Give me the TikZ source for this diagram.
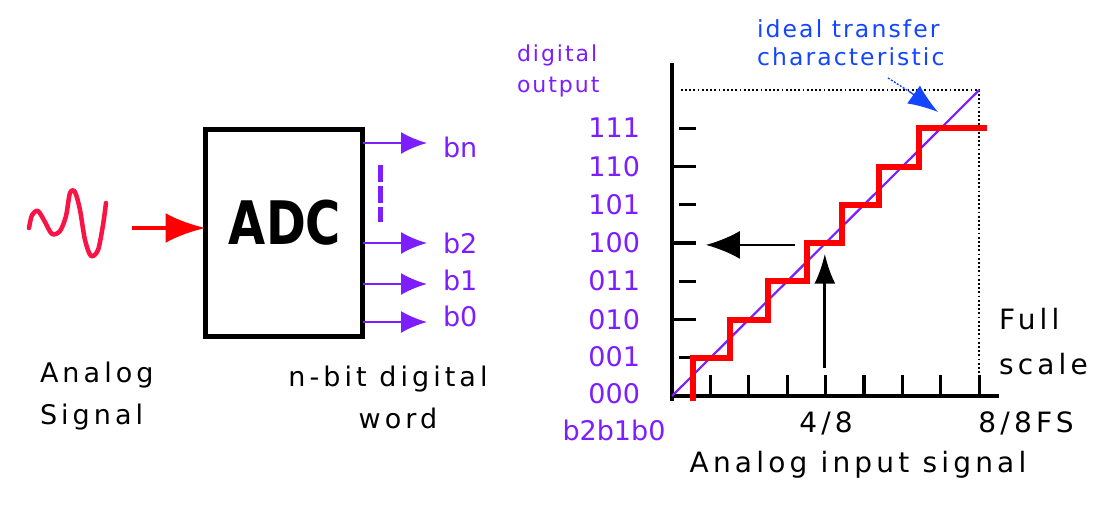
\documentclass[tikz,border=0pt]{standalone}
\usepackage{fontspec}
\usepackage{graphicx}
\setmainfont{DejaVu Sans}
\newfontfamily\lsfont{DejaVu Sans}[LetterSpace=15]
\newfontfamily\lsfontb{DejaVu Sans}[LetterSpace=9]
\usetikzlibrary{arrows.meta}
\definecolor{bitpurple}{RGB}{125,30,255}
\definecolor{idealblue}{RGB}{20,70,255}
\definecolor{sigred}{RGB}{250,20,70}
\definecolor{stepred}{RGB}{255,0,0}
\tikzset{
  every node/.style={inner sep=0pt, outer sep=0pt},
  txt/.style={font=\lsfont\fontsize{27}{42}\selectfont, text=black},
  rtxt/.style={font=\lsfont\fontsize{28}{45}\selectfont, text=black},
  bits/.style={font=\fontsize{27}{30}\selectfont, text=bitpurple},
  smallpurple/.style={font=\lsfontb\fontsize{22}{31}\selectfont, text=bitpurple},
  bluetxt/.style={font=\lsfontb\fontsize{23.5}{28}\selectfont, text=idealblue},
  adcbox/.style={draw=black, line width=5pt, minimum width=157pt, minimum height=207pt},
  outarrow/.style={draw=bitpurple, line width=2.2pt, -{Latex[length=26pt,width=22pt]}},
  inarrow/.style={draw=red, line width=4.5pt, -{Latex[length=40pt,width=30pt]}},
  readarrow/.style={draw=black, line width=2.8pt},
  axisline/.style={draw=black, line width=3.5pt},
  tickline/.style={draw=black, line width=3.2pt},
  dotline/.style={draw=black, line width=1.8pt, dash pattern=on 1.8pt off 2.4pt},
}
\begin{document}
\begin{tikzpicture}[x=1pt,y=-1pt]
\useasboundingbox[fill=white] (0,0) rectangle (1116,509);

% ---------------- left: ADC block ----------------
\node[adcbox] (adc) at (284,233) {};
\node[font=\bfseries\fontsize{60}{60}\selectfont, anchor=base] (adctxt) at (285,244) {\scalebox{0.8}[1]{ADC}};

% analog signal wave
\draw[sigred, line width=4.5pt, line join=round, line cap=round]
  plot[smooth, tension=0.5] coordinates {(29,228) (32,215) (38,211) (45,222) (52,234) (60,231) (66,216) (70,193) (75,192) (80,210) (85,240) (91,256) (98,250) (103,225) (106,203)};
\coordinate (sigstart) at (132,228);
\draw[inarrow] (sigstart) -- (sigstart -| adc.west);

% outputs
\node[bits, anchor=base west] (bn) at (443,157) {bn};
\node[bits, anchor=base west] (b2) at (443,253) {b2};
\node[bits, anchor=base west] (b1) at (443,290) {b1};
\node[bits, anchor=base west] (b0) at (443,326) {b0};
\coordinate (tbn) at (427,143);
\coordinate (tb2) at (427,243);
\coordinate (tb1) at (427,284);
\coordinate (tb0) at (427,322);
\draw[outarrow] (tbn -| adc.east) -- (tbn);
\draw[outarrow] (tb2 -| adc.east) -- (tb2);
\draw[outarrow] (tb1 -| adc.east) -- (tb1);
\draw[outarrow] (tb0 -| adc.east) -- (tb0);
\draw[bitpurple, line width=5pt, dash pattern=on 17pt off 4pt] (380,165) -- (380,222);

\node[txt, anchor=north west, align=left] (analog) at (40,362) {Analog\\Signal};
\node[txt, anchor=north, align=center] (nbit) at (388,366) {n-bit digital\\\hspace*{20pt}word};

% ---------------- right: transfer characteristic ----------------
\begin{scope}[shift={(672,396)}, x=38.4pt, y=38.25pt]
  \draw[axisline] (0,-0.12) -- (0,8.7);
  \draw[axisline] (-0.05,0) -- (8.52,0);
  \foreach \k in {1,3,5,7} \draw[tickline] (0.18,\k) -- (0.62,\k);
  \foreach \k in {2,4,6} \draw[tickline] (0,\k) -- (0.62,\k);
  \foreach \k in {1,...,8} \draw[tickline] (\k,0) -- (\k,0.55);
  \draw[dotline] (0.23,8) -- (8,8) -- (8,0.55);
  \draw[bitpurple, line width=2.2pt] (0,0) -- (8,8);
  \draw[stepred, line width=6pt, line join=miter]
    (0.55,-0.12) -- (0.55,1) -- (1.52,1) -- (1.52,2) -- (2.5,2) -- (2.5,3) -- (3.52,3)
    -- (3.52,4) -- (4.42,4) -- (4.42,5) -- (5.4,5) -- (5.4,6) -- (6.42,6) -- (6.42,7) -- (8.2,7);
  \coordinate (hstart) at (3.2,3.95);
  \coordinate (htip) at (0.88,3.95);
  \coordinate (vstart) at (3.98,0.73);
  \coordinate (vtip) at (3.98,3.72);
\end{scope}
\draw[readarrow, -{Latex[length=34pt,width=28pt]}] (hstart) -- (htip);
\draw[readarrow, -{Latex[length=30pt,width=21pt]}] (vstart) -- (vtip);

% y labels
\foreach \lab/\yy in {111/137, 110/176, 101/214, 100/252, 011/290, 010/329, 001/366, 000/403}
  \node[bits, anchor=base east] at (640,\yy) {\lab};
\node[bits, anchor=base] (bits) at (614,440) {b2b1b0};
\node[smallpurple, anchor=north west, align=left] (dout) at (517,45) {digital\\output};

% x labels
\node[rtxt, anchor=base] (half) at (826,432) {4/8};
\node[rtxt, anchor=base] (fs) at (1026,432) {8/8FS};
\node[rtxt, anchor=base] (xlab) at (858,472) {Analog input signal};
\node[rtxt, anchor=north west, align=left] (full) at (999,308) {Full\\scale};

% ideal characteristic annotation
\node[bluetxt, anchor=north west, align=left] (ideal) at (757,20) {ideal transfer\\characteristic};
\coordinate (istart) at (888,78);
\coordinate (itip) at (938,112);
\draw[idealblue, line width=1.4pt, dash pattern=on 2pt off 1.5pt] (istart) -- (910,92);
\draw[idealblue, line width=1.4pt, -{Latex[length=30pt,width=22pt]}] (910,92) -- (itip);
\end{tikzpicture}
\end{document}
